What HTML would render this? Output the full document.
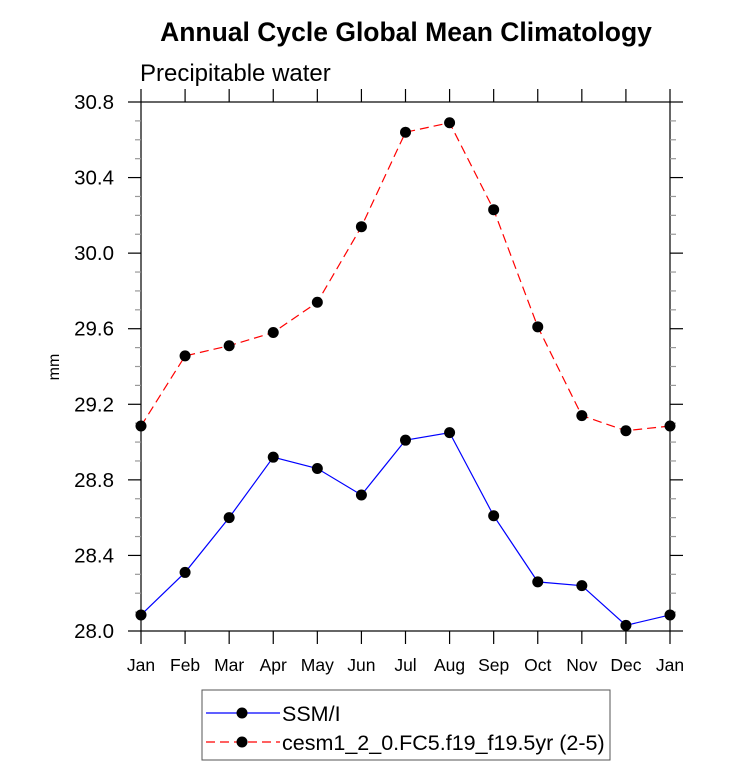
<!DOCTYPE html>
<html><head><meta charset="utf-8"><style>body{margin:0;background:#fff}svg{display:block;font-family:"Liberation Sans",Arial,sans-serif}</style></head>
<body>
<svg id="chart" width="733" height="784" viewBox="0 0 733 784" xmlns="http://www.w3.org/2000/svg">
<text x="406" y="41" text-anchor="middle" font-size="26.5" font-weight="bold">Annual Cycle Global Mean Climatology</text>
<text x="140" y="81" font-size="24">Precipitable water</text>
<text x="59" y="367" font-size="16" text-anchor="middle" transform="rotate(-90 59 367)">mm</text>
<g id="axes"></g>
<g id="series"></g>
<g>
<rect x="202" y="690" width="408" height="70" fill="#fff" stroke="#555" stroke-width="1"/>
<line x1="206" y1="713" x2="280" y2="713" stroke="#0000ff" stroke-width="1.2"/>
<circle cx="242" cy="713" r="5.5" fill="#000"/>
<text x="282" y="721" font-size="21.5">SSM/I</text>
<line x1="206" y1="742" x2="280" y2="742" stroke="#ff0000" stroke-width="1.2" stroke-dasharray="9,5"/>
<circle cx="242" cy="742" r="5.5" fill="#000"/>
<text x="282" y="750" font-size="21.5">cesm1_2_0.FC5.f19_f19.5yr (2-5)</text>
</g>
</svg>
<script>
const months = ["Jan","Feb","Mar","Apr","May","Jun","Jul","Aug","Sep","Oct","Nov","Dec","Jan"];
const ssmiValues = [28.085,28.31,28.60,28.92,28.86,28.72,29.01,29.05,28.61,28.26,28.24,28.03,28.085];
const cesmValues = [29.085,29.456,29.51,29.58,29.74,30.14,30.64,30.69,30.23,29.61,29.14,29.06,29.085];
const yTicks = [28.0,28.4,28.8,29.2,29.6,30.0,30.4,30.8];
const yTickLabels = ["28.0","28.4","28.8","29.2","29.6","30.0","30.4","30.8"];

const NS="http://www.w3.org/2000/svg";
const L=141,R=670,T=102,B=631,yMin=28.0,yMax=30.8;
const xs=i=>L+(R-L)*i/(months.length-1);
const ys=v=>B-(v-yMin)/(yMax-yMin)*(B-T);
function mk(tag,attrs,parent){const e=document.createElementNS(NS,tag);for(const k in attrs)e.setAttribute(k,attrs[k]);parent.appendChild(e);return e;}
const axes=document.getElementById('axes'),series=document.getElementById('series');
const frame=mk('rect',{x:L,y:T,width:R-L,height:B-T,fill:'none',stroke:'#000','stroke-width':1.2},axes);


for(let v=yMin;v<=yMax+1e-6;v+=0.1){
  const y=ys(v);const major=Math.abs(((v-yMin)/0.4)-Math.round((v-yMin)/0.4))<1e-6;
  const len=major?13:6,col=major?'#000':'#999';
  mk('line',{x1:L-len,y1:y,x2:L,y2:y,stroke:col,'stroke-width':1.2},axes);
  mk('line',{x1:R,y1:y,x2:R+len,y2:y,stroke:col,'stroke-width':1.2},axes);
}
yTicks.forEach((v,i)=>{
  const t=mk('text',{x:L-27,y:ys(v)+7,'text-anchor':'end','font-size':20.5},axes);
  t.textContent=yTickLabels[i];
  
  
});
months.forEach((m,i)=>{
  const x=xs(i);
  mk('line',{x1:x,y1:T-13,x2:x,y2:T,stroke:'#000','stroke-width':1.2},axes);
  mk('line',{x1:x,y1:B,x2:x,y2:B+13,stroke:'#000','stroke-width':1.2},axes);
  const t=mk('text',{x:x,y:B+40,'text-anchor':'middle','font-size':17.5},axes);
  t.textContent=m;
  
  
});
function draw(vals,color,dash,name){
  const pts=vals.map((v,i)=>xs(i)+','+ys(v)).join(' ');
  const pl=mk('polyline',{points:pts,fill:'none',stroke:color,'stroke-width':1.2},series);
  if(dash)pl.setAttribute('stroke-dasharray',dash);
  
  
  vals.forEach((v,i)=>{
    const c=mk('circle',{cx:xs(i),cy:ys(v),r:5.5,fill:'#000'},series);
    
    
  });
}
draw(cesmValues,'#ff0000','9,5','cesm');
draw(ssmiValues,'#0000ff',null,'ssmi');
</script>
</body></html>
